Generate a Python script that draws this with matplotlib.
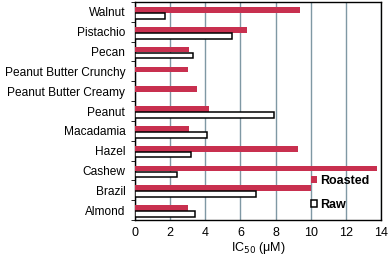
import matplotlib.pyplot as plt
import numpy as np

plt.rcParams['font.family'] = ['Liberation Sans', 'DejaVu Sans']

nuts = ['Almond', 'Brazil', 'Cashew', 'Hazel', 'Macadamia', 'Peanut',
        'Peanut Butter Creamy', 'Peanut Butter Crunchy', 'Pecan', 'Pistachio', 'Walnut']
roasted = [3.0, 10.0, 13.8, 9.3, 3.1, 4.2, 3.5, 3.0, 3.1, 6.4, 9.4]
raw = [3.4, 6.9, 2.4, 3.2, 4.1, 7.9, np.nan, np.nan, 3.3, 5.5, 1.7]

red = '#c8304f'
grid_col = '#7f98a4'

fig = plt.figure(figsize=(3.9, 2.6), dpi=100)
ax = fig.add_axes([135 / 390, 40 / 260, 246 / 390, 218 / 260])

y = np.arange(len(nuts))
h = 0.29
ax.barh(y + 0.1, roasted, height=h, color=red, label='Roasted', zorder=3)
ax.barh(y - 0.2, raw, height=h, color='white', edgecolor='black', linewidth=1.1,
        label='Raw', zorder=3)

ax.set_xlim(0, 14)
ax.set_ylim(-0.5, len(nuts) - 0.5)
ax.set_xticks(range(0, 15, 2))
ax.xaxis.grid(True, color=grid_col, linewidth=1.0, zorder=0)
ax.set_axisbelow(True)

ax.set_yticks(y)
ax.set_yticklabels(nuts, fontsize=8.6)
ax.set_yticks(np.arange(-0.5, len(nuts), 1), minor=True)
ax.tick_params(axis='y', which='major', length=0, pad=7)
ax.tick_params(axis='y', which='minor', length=3, direction='out')
ax.tick_params(axis='x', length=0, labelsize=9, pad=5)

for s in ax.spines.values():
    s.set_color('black')
    s.set_linewidth(1.0)

ax.set_xlabel('IC$_{50}$ (μM)', fontsize=9, labelpad=1)

leg = ax.legend(loc='lower right', bbox_to_anchor=(1.0, -0.01), frameon=False,
                prop={'weight': 'bold', 'size': 9}, handlelength=0.55,
                handleheight=0.55, handletextpad=0.25, labelspacing=0.95)

fig.savefig('out.png', dpi=100)
